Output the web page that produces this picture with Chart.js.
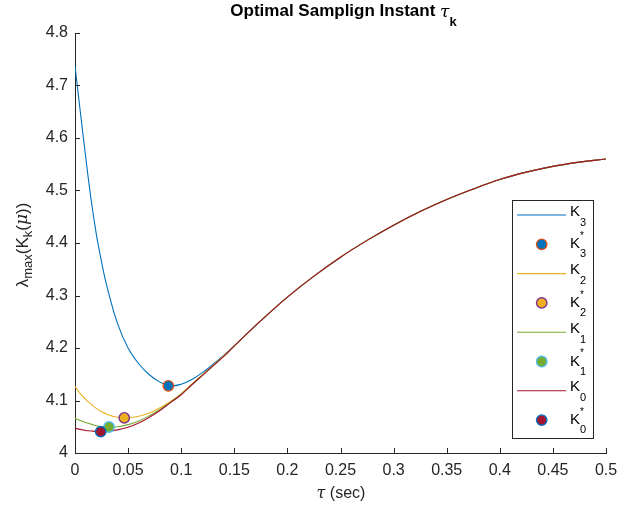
<!DOCTYPE html>
<html lang="en">
<head>
<meta charset="UTF-8">
<title>Optimal Sampling Instant</title>
<script src="https://cdn.jsdelivr.net/npm/chart.js"></script>
<style>
  body { margin: 0; background: #fff; }
  #wrap { width: 639px; height: 508px; }
</style>
</head>
<body>
<div id="wrap"><canvas id="mychart" width="639" height="508"></canvas></div>
<script>
// sampling instants (sec)
const tau = [0, 0.005, 0.01, 0.015, 0.02, 0.025, 0.03, 0.04, 0.05, 0.06, 0.07, 0.08, 0.09,
  0.1, 0.11, 0.12, 0.13, 0.14, 0.15, 0.175, 0.2, 0.225, 0.25, 0.275, 0.3, 0.325, 0.35,
  0.375, 0.4, 0.425, 0.45, 0.475, 0.5];

// shared part of the curves from tau = 0.15 on
const tail = [4.204, 4.252, 4.297, 4.337, 4.373, 4.405, 4.434, 4.460, 4.483,
  4.503, 4.521, 4.535, 4.546, 4.554, 4.560];

const k3 = [4.737, 4.650, 4.565, 4.485, 4.418, 4.364, 4.318, 4.247, 4.200, 4.170, 4.149,
  4.135, 4.128, 4.131, 4.140, 4.153, 4.169, 4.186].concat(tail);
const k2 = [4.127, 4.113, 4.102, 4.093, 4.085, 4.079, 4.074, 4.068, 4.067, 4.070, 4.076,
  4.086, 4.098, 4.113, 4.131, 4.149, 4.167, 4.185].concat(tail);
const k1 = [4.066, 4.062, 4.058, 4.055, 4.052, 4.050, 4.049, 4.050, 4.054, 4.061, 4.071,
  4.083, 4.097, 4.112, 4.130, 4.148, 4.166, 4.184].concat(tail);
const k0 = [4.047, 4.045, 4.043, 4.042, 4.041, 4.0405, 4.041, 4.044, 4.049, 4.057, 4.068,
  4.081, 4.096, 4.111, 4.130, 4.148, 4.166, 4.184].concat(tail);

// optimal points [tau, value]
const k3Star = [0.0879, 4.128];
const k2Star = [0.0464, 4.067];
const k1Star = [0.032, 4.0495];
const k0Star = [0.0242, 4.0406];

const xTicks = [0, 0.05, 0.1, 0.15, 0.2, 0.25, 0.3, 0.35, 0.4, 0.45, 0.5];
const yTicks = [4, 4.1, 4.2, 4.3, 4.4, 4.5, 4.6, 4.7, 4.8];

const legendItems = [
  { sub: '3', star: false, color: '#0072BD' },
  { sub: '3', star: true, fill: '#0072BD', edge: '#D95319' },
  { sub: '2', star: false, color: '#EDB120' },
  { sub: '2', star: true, fill: '#EDB120', edge: '#7E2F8E' },
  { sub: '1', star: false, color: '#77AC30' },
  { sub: '1', star: true, fill: '#77AC30', edge: '#4DBEEE' },
  { sub: '0', star: false, color: '#A2142F' },
  { sub: '0', star: true, fill: '#A2142F', edge: '#0072BD' }
];

const FONT = '"Liberation Sans", Arial, Helvetica, sans-serif';
const INK = '#262626';

function pts(ys) { return tau.map((t, i) => ({ x: t, y: ys[i] })); }

function lineSet(label, ys, color, order) {
  return { label: label, data: pts(ys), borderColor: color, backgroundColor: color,
    borderWidth: 1.1, pointRadius: 0, tension: 0.4, fill: false, order: order };
}
function starSet(label, p, fill, edge, order) {
  return { label: label, data: [{ x: p[0], y: p[1] }], showLine: false,
    pointRadius: 5.2, pointBorderWidth: 1.4, pointBackgroundColor: fill,
    pointBorderColor: edge, order: order };
}

// draw runs of text with sub/superscripts; parts: {t, font, dy, keep}
function richWidth(ctx, parts) {
  let w = 0;
  parts.forEach(p => { ctx.font = p.font; if (!p.keep) w += ctx.measureText(p.t).width; });
  return w;
}
function drawRich(ctx, parts, x, y) {
  let cx = x;
  parts.forEach(p => {
    ctx.font = p.font;
    ctx.fillText(p.t, cx, y + (p.dy || 0));
    if (!p.keep) cx += ctx.measureText(p.t).width;
  });
}

const decor = {
  id: 'decor',
  afterDraw(chart) {
    const ctx = chart.ctx;
    const xs = chart.scales.x, ys = chart.scales.y;
    const area = chart.chartArea;
    ctx.save();
    // inward ticks
    ctx.strokeStyle = INK;
    ctx.lineWidth = 1;
    ctx.beginPath();
    xTicks.forEach(v => {
      const px = Math.round(xs.getPixelForValue(v)) + 0.5;
      ctx.moveTo(px, area.bottom); ctx.lineTo(px, area.bottom - 5);
    });
    yTicks.forEach(v => {
      const py = Math.round(ys.getPixelForValue(v)) + 0.5;
      ctx.moveTo(area.left, py); ctx.lineTo(area.left + 5, py);
    });
    ctx.stroke();

    ctx.fillStyle = '#000';
    ctx.textBaseline = 'middle';
    ctx.textAlign = 'left';

    // title
    const tparts = [
      { t: 'Optimal Samplign Instant ', font: 'bold 17px ' + FONT },
      { t: '\u03C4', font: 'italic 17px "DejaVu Serif", serif', dy: 1.5 },
      { t: 'k', font: 'bold 13px ' + FONT, dy: 11 }
    ];
    drawRich(ctx, tparts, 343.5 - richWidth(ctx, tparts) / 2, 11);

    // x axis label
    ctx.fillStyle = INK;
    const xparts = [
      { t: '\u03C4', font: 'italic 16px "DejaVu Serif", serif' },
      { t: ' (sec)', font: '16px ' + FONT }
    ];
    drawRich(ctx, xparts, 341 - richWidth(ctx, xparts) / 2, 494);

    // y axis label
    const yparts = [
      { t: '\u03BB', font: '17px ' + FONT },
      { t: 'max', font: '13px ' + FONT, dy: 5 },
      { t: '(K', font: '17px ' + FONT },
      { t: 'k', font: '13px ' + FONT, dy: 5 },
      { t: '(', font: '17px ' + FONT },
      { t: '\u03BC', font: 'italic 17px "DejaVu Serif", serif' },
      { t: '))', font: '17px ' + FONT }
    ];
    ctx.save();
    ctx.translate(23, 245);
    ctx.rotate(-Math.PI / 2);
    drawRich(ctx, yparts, -richWidth(ctx, yparts) / 2, 0);
    ctx.restore();

    // legend
    const bx = 512.5, by = 200.5, bw = 81, bh = 238;
    ctx.fillStyle = '#fff';
    ctx.fillRect(bx, by, bw, bh);
    ctx.strokeStyle = INK;
    ctx.strokeRect(bx, by, bw, bh);
    legendItems.forEach((it, i) => {
      const ry = 215 + i * 29.3;
      if (it.star) {
        ctx.beginPath();
        ctx.arc(541.7, ry, 5.2, 0, Math.PI * 2);
        ctx.fillStyle = it.fill; ctx.fill();
        ctx.lineWidth = 1.4; ctx.strokeStyle = it.edge; ctx.stroke();
        ctx.fillStyle = '#000';
        drawRich(ctx, [
          { t: 'K', font: '15px ' + FONT },
          { t: '*', font: '10px ' + FONT, dy: -8, keep: true },
          { t: it.sub, font: '11px ' + FONT, dy: 10 }
        ], 570, ry);
      } else {
        ctx.beginPath();
        ctx.moveTo(517, ry); ctx.lineTo(566, ry);
        ctx.lineWidth = 1.1; ctx.strokeStyle = it.color; ctx.stroke();
        ctx.fillStyle = '#000';
        drawRich(ctx, [
          { t: 'K', font: '15px ' + FONT },
          { t: it.sub, font: '11px ' + FONT, dy: 11 }
        ], 570, ry - 3.5);
      }
    });
    ctx.restore();
  }
};

const tickFont = { family: FONT, size: 16 };

new Chart(document.getElementById('mychart').getContext('2d'), {
  type: 'line',
  data: {
    datasets: [
      starSet('K0*', k0Star, '#A2142F', '#0072BD', 0),
      starSet('K1*', k1Star, '#77AC30', '#4DBEEE', 1),
      starSet('K2*', k2Star, '#EDB120', '#7E2F8E', 2),
      starSet('K3*', k3Star, '#0072BD', '#D95319', 3),
      lineSet('K0', k0, '#A2142F', 4),
      lineSet('K1', k1, '#77AC30', 5),
      lineSet('K2', k2, '#EDB120', 6),
      lineSet('K3', k3, '#0072BD', 7)
    ]
  },
  options: {
    responsive: false,
    animation: false,
    devicePixelRatio: 1,
    layout: { padding: { top: 33, right: 33, left: 0, bottom: 0 } },
    plugins: { legend: { display: false }, tooltip: { enabled: false }, title: { display: false } },
    scales: {
      x: {
        type: 'linear', min: 0, max: 0.5,
        afterBuildTicks: s => { s.ticks = xTicks.map(v => ({ value: v })); },
        afterFit: s => { s.height = 55; },
        ticks: { font: tickFont, color: INK, padding: 8, maxRotation: 0, autoSkip: false,
          callback: v => String(v) },
        grid: { display: true, drawOnChartArea: false, drawTicks: false },
        border: { display: true, color: INK, width: 1 }
      },
      y: {
        type: 'linear', min: 4, max: 4.8,
        afterBuildTicks: s => { s.ticks = yTicks.map(v => ({ value: v })); },
        afterFit: s => { s.width = 75; },
        ticks: { font: tickFont, color: INK, padding: 7, autoSkip: false,
          callback: v => String(v) },
        grid: { display: true, drawOnChartArea: false, drawTicks: false },
        border: { display: true, color: INK, width: 1 }
      }
    }
  },
  plugins: [decor]
});
</script>
</body>
</html>
